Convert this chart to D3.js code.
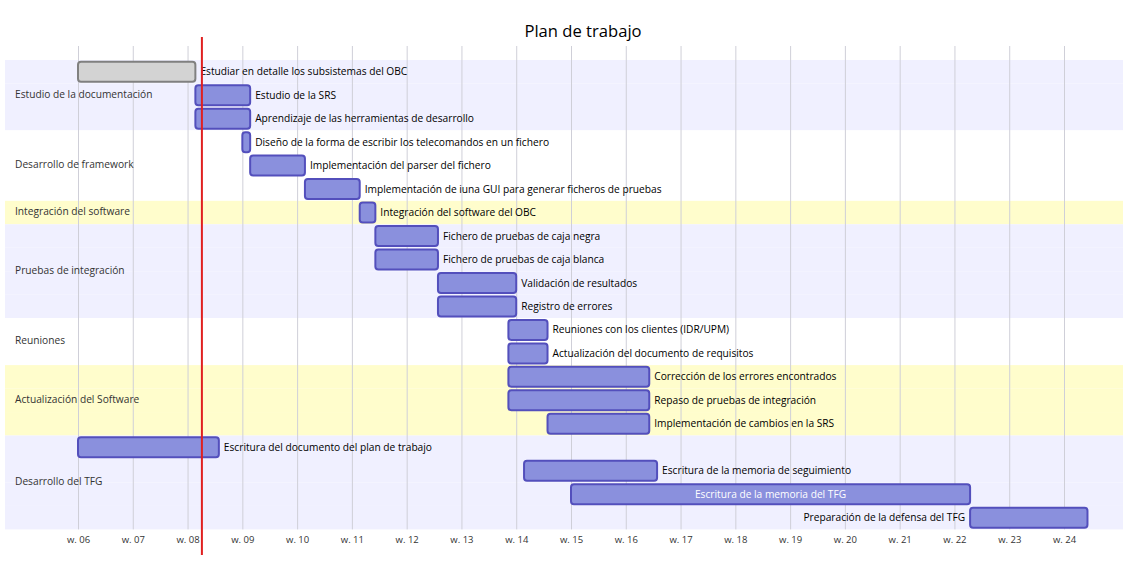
<!DOCTYPE html>
<html>
<head>
<meta charset="utf-8">
<script src="https://cdn.jsdelivr.net/npm/d3@7"></script>
<style>
  html, body { margin: 0; padding: 0; background: #fff; }
  svg { display: block; font-family: "Open Sans", "DejaVu Sans", sans-serif; }
</style>
</head>
<body>
<svg id="chart" width="1130" height="568"></svg>
<script>
const title = "Plan de trabajo";
const sections = [
  "Estudio de la documentación",
  "Desarrollo de framework",
  "Integración del software",
  "Pruebas de integración",
  "Reuniones",
  "Actualización del Software",
  "Desarrollo del TFG"
];
const taskNames = [
  "Estudiar en detalle los subsistemas del OBC",
  "Estudio de la SRS",
  "Aprendizaje de las herramientas de desarrollo",
  "Diseño de la forma de escribir los telecomandos en un fichero",
  "Implementación del parser del fichero",
  "Implementación de iuna GUI para generar ficheros de pruebas",
  "Integración del software del OBC",
  "Fichero de pruebas de caja negra",
  "Fichero de pruebas de caja blanca",
  "Validación de resultados",
  "Registro de errores",
  "Reuniones con los clientes (IDR/UPM)",
  "Actualización del documento de requisitos",
  "Corrección de los errores encontrados",
  "Repaso de pruebas de integración",
  "Implementación de cambios en la SRS",
  "Escritura del documento del plan de trabajo",
  "Escritura de la memoria de seguimiento",
  "Escritura de la memoria del TFG",
  "Preparación de la defensa del TFG"
];
const taskSection = [0,0,0,1,1,1,2,3,3,3,3,4,4,5,5,5,6,6,6,6];
const taskStart = [
  "2022-02-06","2022-02-21","2022-02-21","2022-02-27","2022-02-28","2022-03-07",
  "2022-03-14","2022-03-16","2022-03-16","2022-03-24","2022-03-24","2022-04-02",
  "2022-04-02","2022-04-02","2022-04-02","2022-04-07","2022-02-06","2022-04-04",
  "2022-04-10","2022-05-31"
];
const taskEnd = [
  "2022-02-21","2022-02-28","2022-02-28","2022-02-28","2022-03-07","2022-03-14",
  "2022-03-16","2022-03-24","2022-03-24","2022-04-03","2022-04-03","2022-04-07",
  "2022-04-07","2022-04-20","2022-04-20","2022-04-20","2022-02-24","2022-04-21",
  "2022-05-31","2022-06-15"
];
const taskDone = [true,false,false,false,false,false,false,false,false,false,false,false,false,false,false,false,false,false,false,false];
const todayDate = "2022-02-21T20:00";
const tickFormat = "w. %U";

const parse = d3.timeParse("%Y-%m-%d");
const parseT = d3.timeParse("%Y-%m-%dT%H:%M");
const svg = d3.select("#chart");

const x = d3.scaleTime()
  .domain([parse("2022-02-06"), parse("2022-06-12")])
  .range([78, 1064]);

const top0 = 60, rowH = 23.47, barH = 20;
const nRows = taskNames.length;
const bottom = top0 + nRows * rowH;
const secFill = ["#f0f0ff", "#ffffff", "#fffdcc"];
const fs = 10.2;

// title
svg.append("text").attr("x", 583).attr("y", 37).attr("text-anchor", "middle")
  .attr("font-size", 16.6).attr("fill", "#000").text(title);

// section bands
taskNames.forEach((t, i) => {
  svg.append("rect").attr("x", 5).attr("y", top0 + i * rowH)
    .attr("width", 1118).attr("height", rowH)
    .attr("fill", secFill[taskSection[i] % 3]);
});

// grid / axis
const axis = d3.axisBottom(x)
  .ticks(d3.timeWeek.every(1))
  .tickFormat(d3.timeFormat(tickFormat))
  .tickSize(-(bottom - 46))
  .tickSizeOuter(0);
const g = svg.append("g").attr("transform", `translate(0,${bottom})`).call(axis);
g.select(".domain").remove();
g.selectAll(".tick line").attr("stroke", "#cfcfd8").attr("stroke-width", 1);
g.selectAll(".tick text").attr("font-size", 9.5).attr("fill", "#333").attr("dy", "1.15em")
  .attr("font-family", "'Open Sans', sans-serif");

// section labels
sections.forEach((s, k) => {
  const rows = taskSection.map((v, i) => v === k ? i : -1).filter(v => v >= 0);
  const y0 = top0 + rows[0] * rowH, y1 = top0 + (rows[rows.length - 1] + 1) * rowH;
  svg.append("text").attr("x", 15).attr("y", (y0 + y1) / 2 - 1).attr("dy", "0.35em")
    .attr("font-size", fs).attr("fill", "#333").text(s);
});

// bars
taskNames.forEach((t, i) => {
  const x0 = x(parse(taskStart[i])), x1 = x(parse(taskEnd[i]));
  const cy = top0 + i * rowH + rowH / 2;
  svg.append("rect").attr("x", x0).attr("y", cy - barH / 2)
    .attr("width", x1 - x0).attr("height", barH).attr("rx", 3).attr("ry", 3)
    .attr("fill", taskDone[i] ? "#d3d3d3" : "#8a90dd")
    .attr("stroke", taskDone[i] ? "#808080" : "#534fbc")
    .attr("stroke-width", 2);
  const txt = svg.append("text").attr("y", cy).attr("dy", "0.35em")
    .attr("font-size", fs).text(t);
  const w = txt.node().getComputedTextLength();
  if (w < x1 - x0 - 10) {
    txt.attr("x", (x0 + x1) / 2).attr("text-anchor", "middle").attr("fill", "#fff");
  } else if (x1 + 5 + w > 1123) {
    txt.attr("x", x0 - 5).attr("text-anchor", "end").attr("fill", "#000");
  } else {
    txt.attr("x", x1 + 5).attr("text-anchor", "start").attr("fill", "#000");
  }
});

// today line
const tx = x(parseT(todayDate));
svg.append("line").attr("x1", tx).attr("x2", tx).attr("y1", 37).attr("y2", 555)
  .attr("stroke", "#e02020").attr("stroke-width", 2);
</script>
</body>
</html>
